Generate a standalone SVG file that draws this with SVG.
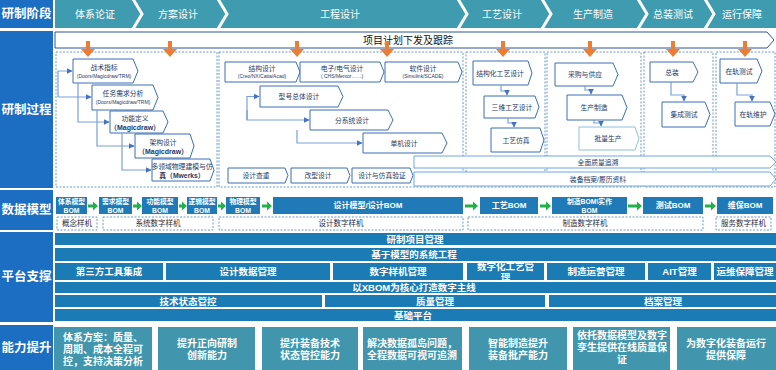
<svg xmlns="http://www.w3.org/2000/svg" width="776" height="370" viewBox="0 0 776 370">
<defs>
<style>
text{font-family:'Liberation Sans','Noto Sans CJK SC',sans-serif;text-anchor:middle;dominant-baseline:central}
.lbl{fill:#1b6ec2}
.lt{font-size:12.5px;font-weight:bold;fill:#fff}
.hdr{fill:#3e9bb0}
.ht{font-size:10px;fill:#fff}
.pent{fill:#fff;stroke:#3a6fb5;stroke-width:1}
.pent2{fill:#fff;stroke:#8fbfdc;stroke-width:1}
.pt{font-size:6.8px;fill:#1f3864}
.ps{font-size:5px;fill:#1f3864}
.dash{fill:none;stroke:#5a8fc8;stroke-width:0.9;stroke-dasharray:2 1.5}
.conn{fill:none;stroke:#7a9fdc;stroke-width:1.2;marker-end:url(#ab)}
.orange{fill:#ed7d31}
.bom{fill:#1f7ab7}
.bt{font-size:6.8px;font-weight:bold;fill:#fff}
.bt2{font-size:8px;font-weight:bold;fill:#fff}
.ga{fill:#22b04b}
.dt{font-size:7.5px;fill:#1f2d3d}
.plat{fill:#1b7bb5}
.plt{font-size:9.5px;font-weight:bold;fill:#fff}
.cap{fill:#4196ae}
.ct{font-size:10px;font-weight:bold;fill:#fff}
</style>
<marker id="ab" viewBox="0 0 10 10" refX="9" refY="5" markerWidth="6" markerHeight="6" markerUnits="userSpaceOnUse" orient="auto"><path d="M0,0 L10,5 L0,10 z" fill="#4472c4"/></marker>
</defs>
<rect width="776" height="370" fill="#fff"/>

<!-- left labels -->
<g id="row-labels">
<rect class="lbl" x="0" y="0" width="53" height="28"/><text class="lt" x="26.5" y="14">研制阶段</text>
<rect class="lbl" x="0" y="31" width="53" height="157"/><text class="lt" x="26.5" y="110">研制过程</text>
<rect class="lbl" x="0" y="190" width="53" height="40"/><text class="lt" x="26.5" y="210">数据模型</text>
<rect class="lbl" x="0" y="232" width="53" height="90"/><text class="lt" x="26.5" y="277">平台支撑</text>
<rect class="lbl" x="0" y="325" width="53" height="45"/><text class="lt" x="26.5" y="348">能力提升</text>
</g>

<!-- stage header -->
<g id="stages">
<rect class="hdr" x="55" y="0" width="721" height="28"/>
<g fill="none" stroke="#fff" stroke-width="3">
<polyline points="133,-1 142,14 133,29"/>
<polyline points="218,-1 227,14 218,29"/>
<polyline points="458,-1 467,14 458,29"/>
<polyline points="542,-1 551,14 542,29"/>
<polyline points="638,-1 647,14 638,29"/>
<polyline points="705,-1 714,14 705,29"/>
</g>
<text class="ht" x="95" y="14">体系论证</text>
<text class="ht" x="178" y="14">方案设计</text>
<text class="ht" x="340" y="14">工程设计</text>
<text class="ht" x="502" y="14">工艺设计</text>
<text class="ht" x="593" y="14">生产制造</text>
<text class="ht" x="673" y="14">总装测试</text>
<text class="ht" x="742" y="14">运行保障</text>
</g>

<!-- plan bar -->
<g id="plan-bar">
<polygon points="55,32 767,32 774,40 767,48 55,48" fill="#fff" stroke="#2f5597" stroke-width="1"/>
<text x="408" y="40" font-size="10" fill="#111">项目计划下发及跟踪</text>
</g>

<!-- dashed stage containers -->
<g id="stage-boxes">
<rect class="dash" x="56" y="52" width="161" height="135"/>
<rect class="dash" x="219" y="52" width="244" height="135"/>
<rect class="dash" x="466" y="52" width="79" height="135"/>
<rect class="dash" x="547" y="52" width="94" height="135"/>
<rect class="dash" x="644" y="52" width="69" height="135"/>
<rect class="dash" x="716" y="52" width="59" height="135"/>
</g>

<!-- orange arrows -->
<g id="plan-arrows" class="orange">
<path d="M86,41 h4 v8 h5 l-7,8 l-7,-8 h5 z"/>
<path d="M168,41 h4 v8 h5 l-7,8 l-7,-8 h5 z"/>
<path d="M295,41 h4 v8 h5 l-7,8 l-7,-8 h5 z"/>
<path d="M385,41 h4 v8 h5 l-7,8 l-7,-8 h5 z"/>
<path d="M501,41 h4 v8 h5 l-7,8 l-7,-8 h5 z"/>
<path d="M588,41 h4 v8 h5 l-7,8 l-7,-8 h5 z"/>
<path d="M671,41 h4 v8 h5 l-7,8 l-7,-8 h5 z"/>
<path d="M743,41 h4 v8 h5 l-7,8 l-7,-8 h5 z"/>
</g>

<!-- 体系论证/方案设计 nodes -->
<g id="n-zhanshu"><polygon class="pent" points="73,59 133,59 138,71 133,83 73,83"/><text class="pt" x="104" y="67.5" font-size="7">战术指标</text><text class="ps" x="104" y="76" font-size="4.5">(Doors/Magicdraw/TRM)</text></g>
<g id="n-renwu"><polygon class="pent" points="92,85 153,85 158,97.5 153,110 92,110"/><text class="pt" x="123" y="93.5">任务需求分析</text><text class="ps" x="123" y="102" font-size="4.5">(Doors/Magicdraw/TRM)</text></g>
<g id="n-gongneng"><polygon class="pent" points="110,111 163,111 168,122 163,133 110,133"/><text class="pt" x="135" y="118">功能定义</text><text x="135" y="127" font-size="7" font-weight="bold" fill="#1f3864">（Magicdraw）</text></g>
<g id="n-jiagou"><polygon class="pent" points="135,134 190,134 194,146 190,158 135,158"/><text class="pt" x="163" y="142">架构设计</text><text x="163" y="151" font-size="7" font-weight="bold" fill="#1f3864">（Magicdraw）</text></g>
<g id="n-duolingyu"><polygon class="pent" points="152,159 210,159 214,170 210,181 152,181"/><text class="pt" x="182" y="166.5">多领域物理建模与仿</text><text x="182" y="175" font-size="6.8" font-weight="bold" fill="#1f3864">真（Mwerks）</text></g>

<!-- 工程设计 nodes -->
<g id="n-jiegou"><polygon class="pent" points="225,62 296,62 300,72 296,82 225,82"/><text class="pt" x="262" y="68">结构设计</text><text class="ps" x="262" y="75.5">(Creo/NX/Catia/Acad)</text></g>
<g id="n-dianzi"><polygon class="pent" points="300,62 380,62 384,72 380,82 300,82"/><text class="pt" x="342" y="68">电子/电气设计</text><text class="ps" x="342" y="75.5">( CHS/Mentor……)</text></g>
<g id="n-ruanjian"><polygon class="pent" points="385,62 458,62 462,72 458,82 385,82"/><text class="pt" x="423" y="68">软件设计</text><text class="ps" x="423" y="75.5">(Simulink/SCADE)</text></g>
<g id="n-xinghao"><polygon class="pent" points="260,86 338,86 343,96.5 338,107 260,107"/><text class="pt" x="299" y="96.5" font-size="7">型号总体设计</text></g>
<g id="n-fenxitong"><polygon class="pent" points="310,110 388,110 393,120 388,130 310,130"/><text class="pt" x="352" y="120" font-size="7">分系统设计</text></g>
<g id="n-danji"><polygon class="pent" points="363,133 442,133 447,143 442,153 363,153"/><text class="pt" x="404" y="143" font-size="7">单机设计</text></g>
<g id="n-chazhong"><polygon class="pent" points="228,168 285,168 288,175.5 285,183 228,183"/><text class="pt" x="256" y="175.5" font-size="7">设计查重</text></g>
<g id="n-gaixing"><polygon class="pent" points="291,168 347,168 350,175.5 347,183 291,183"/><text class="pt" x="318" y="175.5" font-size="7">改型设计</text></g>
<g id="n-fangzhen"><polygon class="pent" points="352,168 410,168 413,175.5 410,183 352,183"/><text class="pt" x="382" y="175.5" font-size="7">设计与仿真验证</text></g>

<!-- 工艺设计 nodes -->
<g id="n-jiegouhua"><polygon class="pent" points="473,61 528,61 532,73 528,85 473,85"/><text class="pt" x="500" y="73" font-size="6.5">结构化工艺设计</text></g>
<g id="n-sanwei"><polygon class="pent" points="484,96 535,96 539,107 535,118 484,118"/><text class="pt" x="512" y="107">三维工艺设计</text></g>
<g id="n-gongyifz"><polygon class="pent" points="491,128 540,128 544,140 540,152 491,152"/><text class="pt" x="516" y="140">工艺仿真</text></g>

<!-- 生产制造 nodes -->
<g id="n-caigou"><polygon class="pent" points="555,63 613,63 618,74.5 613,86 555,86"/><text class="pt" x="585" y="74.5">采购与供应</text></g>
<g id="n-shengchan"><polygon class="pent" points="567,95 622,95 627,107.5 622,120 567,120"/><text class="pt" x="594" y="107.5">生产制造</text></g>
<g id="n-piliang"><polygon class="pent2" points="579,127 635,127 639,138.5 635,150 579,150"/><text class="pt" x="608" y="138.5">批量生产</text></g>

<!-- 总装测试 nodes -->
<g id="n-zongzhuang"><polygon class="pent" points="650,62 693,62 698,72 693,82 650,82"/><text class="pt" x="672" y="72">总装</text></g>
<g id="n-jicheng"><polygon class="pent" points="662,102 705,102 710,114.5 705,127 662,127"/><text class="pt" x="684" y="114.5">集成测试</text></g>

<!-- 运行保障 nodes -->
<g id="n-zaiguics"><polygon class="pent" points="720,59 757,59 762,71 757,83 720,83"/><text class="pt" x="739" y="71">在轨测试</text></g>
<g id="n-zaiguiwh"><polygon class="pent" points="735,102 770,102 775,114 770,126 735,126"/><text class="pt" x="753" y="114">在轨维护</text></g>

<!-- long bars -->
<g id="n-zhiliang"><polygon points="414,156 770,156 776,162 770,168 414,168" fill="#fff" stroke="#6fa8dc" stroke-width="1"/><text class="pt" x="598" y="162" font-size="7.5">全面质量追溯</text></g>
<g id="n-dangan"><polygon points="414,172 770,172 776,179 770,186 414,186" fill="#fff" stroke="#6fa8dc" stroke-width="1"/><text class="pt" x="598" y="179" font-size="7.5">装备档案/履历资料</text></g>

<!-- connectors -->
<g id="connectors">
<path class="conn" d="M58,97 V71 H72"/>
<path class="conn" d="M58,97 H91"/>
<path class="conn" d="M78,83 V122 H109"/>
<path class="conn" d="M97,110 V146 H134"/>
<path class="conn" d="M122,133 V170 H151"/>
<path class="conn" d="M247,120 V96.5 H259"/>
<path class="conn" d="M247,110 V120 H309"/>
<path class="conn" d="M297,130 V143 H362"/>
<path class="conn" d="M501,85 V91 H507 V95"/>
<path class="conn" d="M508,118 V123 H514 V127"/>
<path class="conn" d="M585,86 V90 H591 V94"/>
<path class="conn" d="M594,120 V123 H601 V126"/>
<path class="conn" d="M671,82 V95 H684 V101"/>
<path class="conn" d="M737,83 V95 H752 V101"/>
<g class="ga">
<path d="M88,204.5 h5 v-3 l5,4.5 l-5,4.5 v-3 h-5 z"/>
<path d="M133,204.5 h4 v-3 l5,4.5 l-5,4.5 v-3 h-4 z"/>
<path d="M179,204.5 h3 v-3 l5,4.5 l-5,4.5 v-3 h-3 z"/>
<path d="M218,204.5 h3 v-3 l5,4.5 l-5,4.5 v-3 h-3 z"/>
<path d="M262,204.5 h5 v-3 l5,4.5 l-5,4.5 v-3 h-5 z"/>
<path d="M465,204.5 h8 v-3 l5,4.5 l-5,4.5 v-3 h-8 z"/>
<path d="M540,204.5 h6 v-3 l5,4.5 l-5,4.5 v-3 h-6 z"/>
<path d="M628,204.5 h9 v-3 l5,4.5 l-5,4.5 v-3 h-9 z"/>
<path d="M705,204.5 h6 v-3 l5,4.5 l-5,4.5 v-3 h-6 z"/>
</g>
</g>

<!-- data model BOMs -->
<g id="bom-tixi"><rect class="bom" x="56" y="197" width="31" height="17"/><text class="bt" x="71.5" y="201.5">体系模型</text><text class="bt" x="71.5" y="210">BOM</text></g>
<g id="bom-xuqiu"><rect class="bom" x="99" y="197" width="33" height="17"/><text class="bt" x="115.5" y="201.5">需求模型</text><text class="bt" x="115.5" y="210">BOM</text></g>
<g id="bom-gongneng"><rect class="bom" x="142" y="197" width="36" height="17"/><text class="bt" x="160" y="201.5">功能模型</text><text class="bt" x="160" y="210">BOM</text></g>
<g id="bom-luoji"><rect class="bom" x="187" y="197" width="30" height="17"/><text class="bt" x="202" y="201.5">逻辑模型</text><text class="bt" x="202" y="210">BOM</text></g>
<g id="bom-wuli"><rect class="bom" x="226" y="197" width="34" height="17"/><text class="bt" x="243" y="201.5">物理模型</text><text class="bt" x="243" y="210">BOM</text></g>
<g id="bom-sheji"><rect class="bom" x="273" y="197" width="190" height="17"/><text class="bt2" x="368" y="205.5">设计模型/设计BOM</text></g>
<g id="bom-gongyi"><rect class="bom" x="480" y="197" width="58" height="17"/><text class="bt2" x="509" y="205.5">工艺BOM</text></g>
<g id="bom-zhizao"><rect class="bom" x="552" y="197" width="75" height="17"/><text class="bt" x="589.5" y="201.5" font-size="7.5">制造BOM\实作</text><text class="bt" x="589.5" y="210" font-size="7.5">BOM</text></g>
<g id="bom-ceshi"><rect class="bom" x="643" y="197" width="60" height="17"/><text class="bt2" x="673" y="205.5">测试BOM</text></g>
<g id="bom-weibao"><rect class="bom" x="717" y="197" width="56" height="17"/><text class="bt2" x="745" y="205.5">维保BOM</text></g>

<!-- digital prototypes -->
<g id="proto-gainian"><rect class="dash" x="57" y="217" width="40" height="13"/><text class="dt" x="77" y="223.5">概念样机</text></g>
<g id="proto-xitong"><rect class="dash" x="103" y="217" width="110" height="13"/><text class="dt" x="158" y="223.5">系统数字样机</text></g>
<g id="proto-sheji"><rect class="dash" x="219" y="217" width="244" height="13"/><text class="dt" x="341" y="223.5">设计数字样机</text></g>
<g id="proto-zhizao"><rect class="dash" x="468" y="217" width="235" height="13"/><text class="dt" x="585" y="223.5">制造数字样机</text></g>
<g id="proto-fuwu"><rect class="dash" x="716" y="217" width="55" height="13"/><text class="dt" x="743.5" y="223.5">服务数字样机</text></g>

<!-- platform -->
<g id="plat-xiangmu"><rect class="plat" x="55" y="233" width="721" height="12"/><text class="plt" x="415" y="239">研制项目管理</text></g>
<g id="plat-mbse"><rect class="plat" x="55" y="248" width="721" height="13"/><text class="plt" x="414" y="254.5">基于模型的系统工程</text></g>
<g id="plat-disanfang"><rect class="plat" x="55" y="263" width="108" height="17"/><text class="plt" x="109" y="271.5">第三方工具集成</text></g>
<g id="plat-shejishuju"><rect class="plat" x="166" y="263" width="164" height="17"/><text class="plt" x="248" y="271.5">设计数据管理</text></g>
<g id="plat-yangji"><rect class="plat" x="333" y="263" width="130" height="17"/><text class="plt" x="398" y="271.5">数字样机管理</text></g>
<g id="plat-gongyi"><rect class="plat" x="467" y="263" width="77" height="17"/><text class="plt" x="505.5" y="266">数字化工艺管</text><text class="plt" x="505.5" y="277.5">理</text></g>
<g id="plat-yunying"><rect class="plat" x="547" y="263" width="98" height="17"/><text class="plt" x="596" y="271.5">制造运营管理</text></g>
<g id="plat-ait"><rect class="plat" x="648" y="263" width="63" height="17"/><text class="plt" x="679.5" y="271.5">AIT管理</text></g>
<g id="plat-yunwei"><rect class="plat" x="714" y="263" width="62" height="17"/><text class="plt" x="745" y="271.5">运维保障管理</text></g>
<g id="plat-xbom"><rect class="plat" x="55" y="282" width="721" height="11"/><text class="plt" x="414" y="287.5">以XBOM为核心打造数字主线</text></g>
<g id="plat-jishu"><rect class="plat" x="55" y="295" width="267" height="12"/><text class="plt" x="188" y="301">技术状态管控</text></g>
<g id="plat-zhiliang"><rect class="plat" x="325" y="295" width="220" height="12"/><text class="plt" x="435" y="301">质量管理</text></g>
<g id="plat-dangan"><rect class="plat" x="549" y="295" width="227" height="12"/><text class="plt" x="663" y="301">档案管理</text></g>
<g id="plat-jichu"><rect class="plat" x="55" y="309" width="721" height="12"/><text class="plt" x="413" y="315">基础平台</text></g>

<!-- capability -->
<g id="cap-1"><rect class="cap" x="54" y="327" width="98" height="43"/><text class="ct" x="63" y="337.5" text-anchor="start" style="text-anchor:start" font-size="9.5">体系方案：质量、</text><text class="ct" x="63" y="349.5" style="text-anchor:start" font-size="9.5">周期、成本全程可</text><text class="ct" x="63" y="361.5" style="text-anchor:start" font-size="9.5">控，支持决策分析</text></g>
<g id="cap-2"><rect class="cap" x="158" y="327" width="97" height="43"/><text class="ct" x="207" y="343">提升正向研制</text><text class="ct" x="207" y="355.5">创新能力</text></g>
<g id="cap-3"><rect class="cap" x="262" y="327" width="96" height="43"/><text class="ct" x="310" y="343">提升装备技术</text><text class="ct" x="310" y="355.5">状态管控能力</text></g>
<g id="cap-4"><rect class="cap" x="363" y="327" width="99" height="43"/><text class="ct" x="412" y="343" font-size="9.5">解决数据孤岛问题，</text><text class="ct" x="412" y="355.5" font-size="9.5">全程数据可视可追溯</text></g>
<g id="cap-5"><rect class="cap" x="469" y="327" width="98" height="43"/><text class="ct" x="518" y="343">智能制造提升</text><text class="ct" x="518" y="355.5">装备批产能力</text></g>
<g id="cap-6"><rect class="cap" x="573" y="327" width="97" height="43"/><text class="ct" x="622" y="335" font-size="9.8">依托数据模型及数字</text><text class="ct" x="622" y="347" font-size="9.8">孪生提供在线质量保</text><text class="ct" x="622" y="359.5" font-size="9.8">证</text></g>
<g id="cap-7"><rect class="cap" x="677" y="327" width="99" height="43"/><text class="ct" x="726" y="343">为数字化装备运行</text><text class="ct" x="726" y="355.5">提供保障</text></g>
</svg>
